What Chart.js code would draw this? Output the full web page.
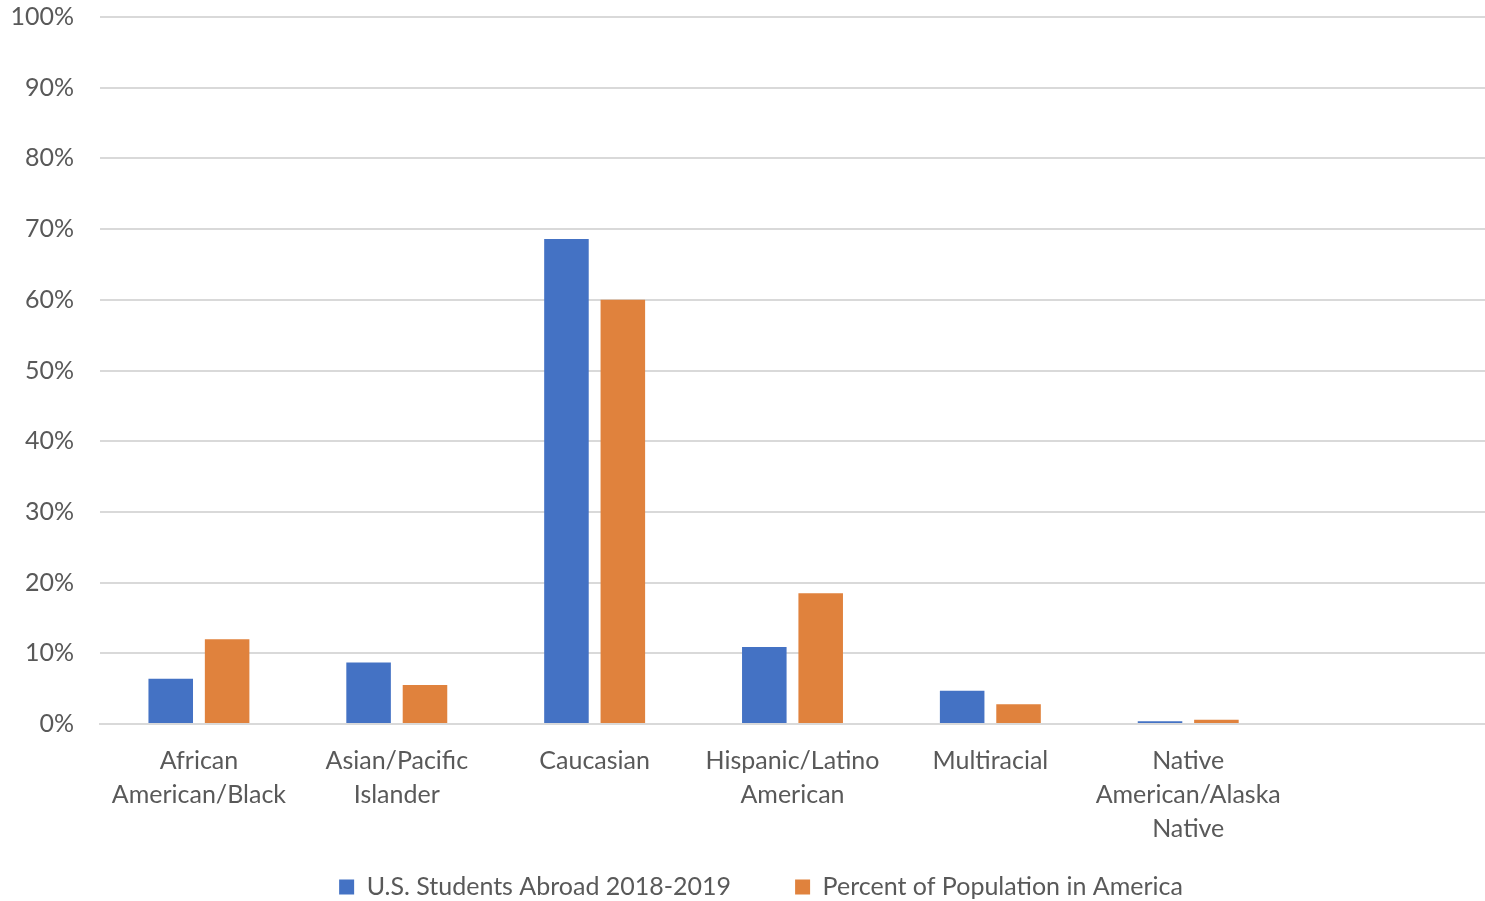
<!DOCTYPE html>
<html>
<head>
<meta charset="utf-8">
<script src="https://cdn.jsdelivr.net/npm/chart.js@4.4.1/dist/chart.umd.min.js"></script>
<style>
html,body{margin:0;padding:0;background:#fff;}
#wrap{width:1485px;height:901px;position:relative;}
</style>
</head>
<body>
<div id="wrap"><canvas id="c" width="1485" height="901"></canvas></div>
<script>
const categories = [
  ["African", "American/Black"],
  ["Asian/Pacific", "Islander"],
  "Caucasian",
  ["Hispanic/Latino", "American"],
  "Multiracial",
  ["Native", "American/Alaska", "Native"],
  ""
];
const studentsAbroad = [6.4, 8.7, 68.6, 10.9, 4.7, 0.4, null];
const populationShare = [12.0, 5.5, 60.0, 18.5, 2.8, 0.6, null];
const seriesNames = ["U.S. Students Abroad 2018-2019", "Percent of Population in America"];

const FONT = "Lato, 'Open Sans', sans-serif";
const TXT = '#595959';
const GRID = '#d9d9d9';

// place the legend row where the reference has it
const legendPlacer = {
  id: 'legendPlacer',
  afterLayout(chart) {
    const lg = chart.legend;
    if (!lg) return;
    lg.left = 37;
    lg.top = 810.5;
  }
};

new Chart(document.getElementById('c'), {
  type: 'bar',
  data: {
    labels: categories,
    datasets: [
      { label: seriesNames[0], data: studentsAbroad, backgroundColor: '#4472C4' },
      { label: seriesNames[1], data: populationShare, backgroundColor: '#E0823D' }
    ]
  },
  plugins: [legendPlacer],
  options: {
    responsive: false,
    animation: false,
    devicePixelRatio: 1,
    categoryPercentage: 0.57,
    barPercentage: 0.79,
    layout: { padding: 0 },
    plugins: {
      tooltip: { enabled: false },
      legend: {
        position: 'bottom',
        maxHeight: 42,
        labels: {
          font: { family: FONT, size: 25 },
          color: TXT,
          boxWidth: 15,
          boxHeight: 15,
          padding: 64
        }
      }
    },
    scales: {
      x: {
        grid: { display: false, drawTicks: false },
        border: { display: true, color: GRID, width: 2 },
        ticks: {
          font: { family: FONT, size: 25, lineHeight: 1.36 },
          color: TXT,
          padding: 20,
          maxRotation: 0,
          autoSkip: false
        },
        afterFit: s => { s.height = 135; }
      },
      y: {
        min: 0,
        max: 100,
        grid: { color: GRID, lineWidth: 2, drawTicks: true, tickLength: 24, tickColor: 'rgba(0,0,0,0)' },
        border: { display: false },
        ticks: {
          stepSize: 10,
          font: { family: FONT, size: 25 },
          color: TXT,
          padding: 2,
          callback: v => v + '%'
        },
        afterFit: s => { s.width = 100; }
      }
    }
  }
});
</script>
</body>
</html>
